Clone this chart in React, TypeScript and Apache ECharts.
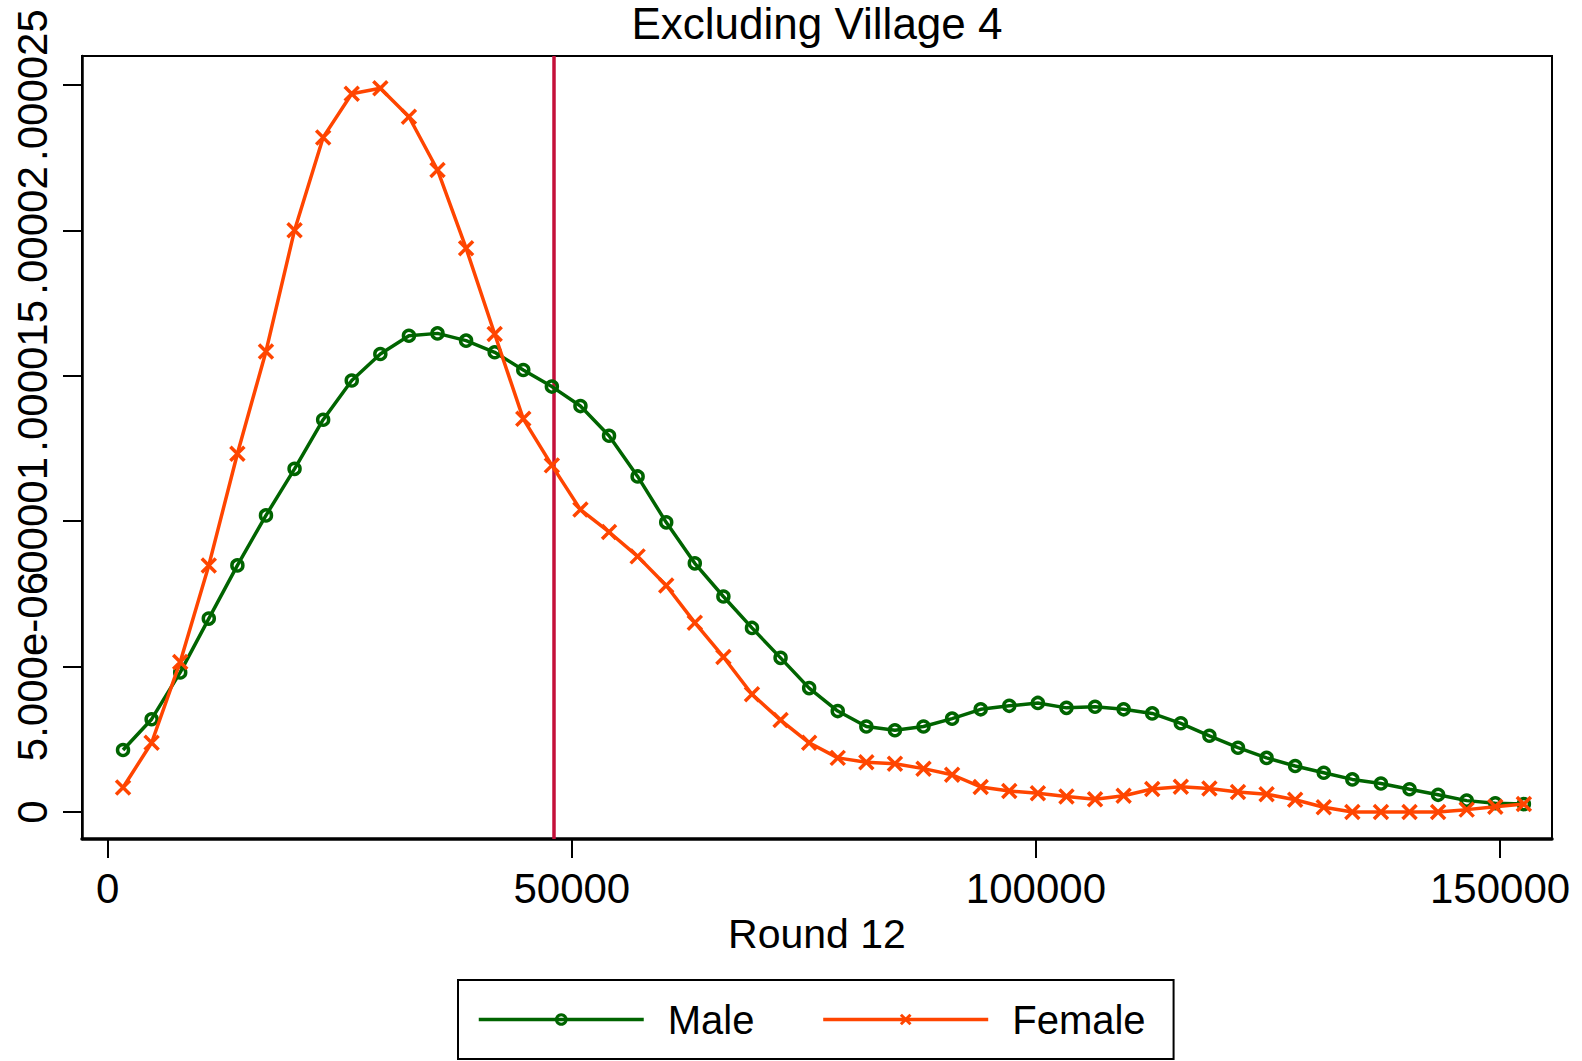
import React, { useEffect, useRef } from "react";
import * as echarts from "echarts";

// Evaluation grid of the kernel density estimates (income, Round 12)
const X_GRID = [
  1650, 4730, 7810, 10890, 13970, 17050, 20130, 23210, 26290, 29370,
  32450, 35530, 38610, 41690, 44770, 47850, 50930, 54010, 57090, 60170,
  63250, 66330, 69410, 72490, 75570, 78650, 81730, 84810, 87890, 90970,
  94050, 97130, 100210, 103290, 106370, 109450, 112530, 115610, 118690, 121770,
  124850, 127930, 131010, 134090, 137170, 140250, 143330, 146410, 149490, 152570,
];

// Density values, in units of 1e-6
const MALE = [
  2.13, 3.19, 4.80, 6.65, 8.48, 10.20, 11.80, 13.49, 14.84, 15.75,
  16.38, 16.46, 16.21, 15.81, 15.20, 14.63, 13.96, 12.94, 11.54, 9.96,
  8.55, 7.41, 6.33, 5.30, 4.26, 3.47, 2.94, 2.81, 2.94, 3.21,
  3.53, 3.65, 3.75, 3.58, 3.62, 3.53, 3.39, 3.05, 2.62, 2.21,
  1.86, 1.58, 1.35, 1.12, 0.98, 0.78, 0.59, 0.39, 0.30, 0.27,
];

const FEMALE = [
  0.84, 2.38, 5.16, 8.48, 12.32, 15.84, 20.01, 23.20, 24.70, 24.89,
  23.91, 22.08, 19.39, 16.44, 13.52, 11.92, 10.40, 9.63, 8.79, 7.79,
  6.51, 5.33, 4.05, 3.16, 2.38, 1.86, 1.71, 1.66, 1.49, 1.28,
  0.86, 0.72, 0.64, 0.53, 0.44, 0.56, 0.79, 0.87, 0.81, 0.69,
  0.61, 0.42, 0.16, 0.0, 0.0, 0.0, 0.0, 0.08, 0.18, 0.27,
];

const Y_TICKS = [0, 5, 10, 15, 20, 25];
const Y_TICK_LABELS = ["0", "5.000e-06", ".00001", ".000015", ".00002", ".000025"];
const X_TICKS = [0, 50000, 100000, 150000];
const X_TICK_LABELS = ["0", "50000", "100000", "150000"];
const CUTOFF = 48000;

const GREEN = "#006400";
const ORANGE = "#ff4500";
const CRIMSON = "#c4103a";
const FONT = "'Liberation Sans', Arial, sans-serif";

const CROSS = "path://M0,0L10,10M10,0L0,10";

export default function App() {
  const ref = useRef<HTMLDivElement>(null);

  useEffect(() => {
    if (!ref.current) return;
    const chart = echarts.init(ref.current, null, { renderer: "svg" });

    const male = X_GRID.map((x, i) => [x, MALE[i]]);
    const female = X_GRID.map((x, i) => [x, FEMALE[i]]);

    chart.setOption({
      animation: false,
      backgroundColor: "#ffffff",
      textStyle: { fontFamily: FONT, color: "#000" },
      title: {
        text: "Excluding Village 4",
        left: 817,
        top: 1,
        padding: 0,
        textAlign: "center",
        textStyle: { fontFamily: FONT, fontSize: 44, fontWeight: "normal", color: "#000" },
      },
      grid: {
        left: 82,
        right: 30,
        top: 56,
        bottom: 222,
        show: true,
        borderColor: "#000",
        borderWidth: 2,
        containLabel: false,
        outerBoundsMode: "none",
      },
      xAxis: {
        type: "value",
        min: -2770,
        max: 155600,
        name: "Round 12",
        nameLocation: "middle",
        nameGap: 73,
        nameTextStyle: { fontFamily: FONT, fontSize: 41, color: "#000" },
        splitLine: { show: false },
        axisLine: { show: true, onZero: false, lineStyle: { color: "#000", width: 3.5 } },
        axisTick: { show: true, length: 19, customValues: X_TICKS, lineStyle: { color: "#000", width: 2 } },
        axisLabel: {
          customValues: X_TICKS,
          margin: 28,
          fontFamily: FONT,
          fontSize: 42,
          color: "#000",
          formatter: (v: number) => {
            const i = X_TICKS.indexOf(v);
            return i >= 0 ? X_TICK_LABELS[i] : "";
          },
        },
      },
      yAxis: {
        type: "value",
        min: -0.93,
        max: 26,
        splitLine: { show: false },
        axisLine: { show: true, onZero: false, lineStyle: { color: "#000", width: 2.5 } },
        axisTick: { show: true, length: 19, customValues: Y_TICKS, lineStyle: { color: "#000", width: 2 } },
        axisLabel: {
          customValues: Y_TICKS,
          rotate: 90,
          margin: 29,
          fontFamily: FONT,
          fontSize: 42,
          color: "#000",
          hideOverlap: false,
          formatter: (v: number) => {
            const i = Y_TICKS.indexOf(v);
            return i >= 0 ? Y_TICK_LABELS[i] : "";
          },
        },
      },
      legend: {
        data: ["Male", "Female"],
        left: 458,
        top: 980,
        orient: "horizontal",
        padding: [17, 28, 17, 19],
        itemGap: 67,
        itemWidth: 165,
        itemHeight: 12,
        borderColor: "#000",
        borderWidth: 2,
        backgroundColor: "#fff",
        selectedMode: false,
        itemStyle: { borderWidth: 3 },
        lineStyle: { width: 3.5 },
        textStyle: {
          fontFamily: FONT,
          fontSize: 40,
          lineHeight: 45,
          color: "#000",
          padding: [0, 0, 0, 19],
        },
      },
      series: [
        {
          name: "Male",
          type: "line",
          data: male,
          smooth: false,
          symbol: "circle",
          symbolSize: 11,
          showAllSymbol: true,
          lineStyle: { color: GREEN, width: 3.5 },
          itemStyle: { color: "transparent", borderColor: GREEN, borderWidth: 3.5 },
          z: 3,
          markLine: {
            silent: true,
            symbol: ["none", "none"],
            label: { show: false },
            z: 1,
            lineStyle: { color: CRIMSON, width: 3.5, type: "solid" },
            data: [{ xAxis: CUTOFF }],
          },
        },
        {
          name: "Female",
          type: "line",
          data: female,
          smooth: false,
          symbol: CROSS,
          symbolSize: 14,
          showAllSymbol: true,
          lineStyle: { color: ORANGE, width: 3.5 },
          itemStyle: { color: ORANGE, borderColor: ORANGE, borderWidth: 3.5 },
          z: 4,
        },
      ],
    });

    return () => chart.dispose();
  }, []);

  return (
    <div
      ref={ref}
      style={{ position: "fixed", left: 0, top: 0, width: 1582, height: 1061, background: "#fff" }}
    />
  );
}
